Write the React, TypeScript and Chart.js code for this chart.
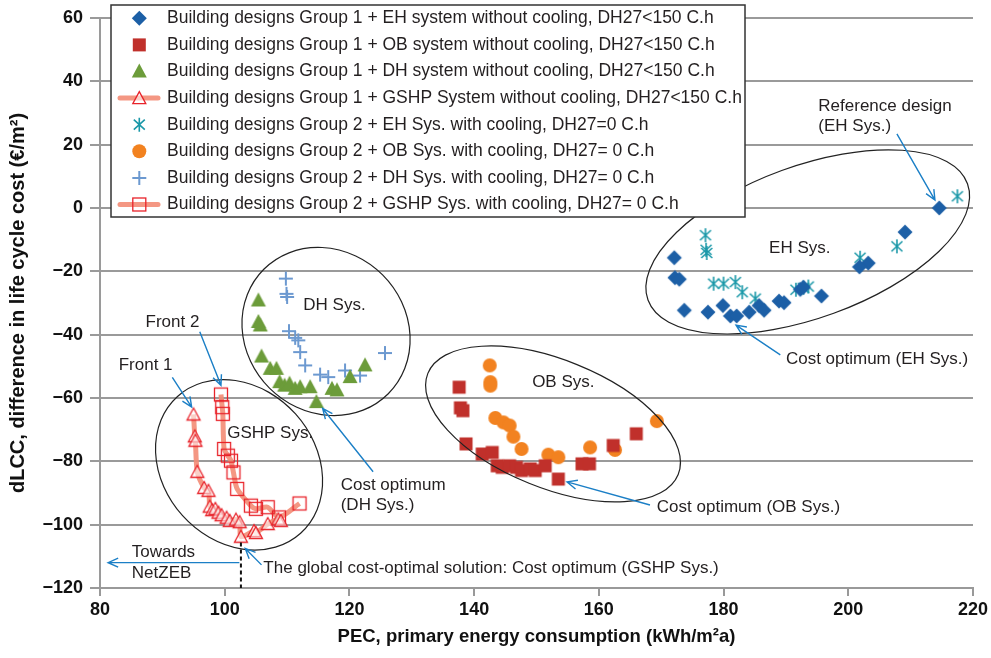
import React, { useEffect, useRef } from 'react';
import { Chart, registerables } from 'chart.js';
Chart.register(...registerables);

// ---------- data ----------
const xTicks = [80, 100, 120, 140, 160, 180, 200, 220];
const yTicks = [60, 40, 20, 0, -20, -40, -60, -80, -100, -120];

const legendLabels = [
  'Building designs Group 1 + EH system without cooling, DH27<150 C.h',
  'Building designs Group 1 + OB system without cooling, DH27<150 C.h',
  'Building designs Group 1 + DH system without cooling, DH27<150 C.h',
  'Building designs Group 1 + GSHP System without cooling, DH27<150 C.h',
  'Building designs Group 2 + EH Sys. with cooling, DH27=0 C.h',
  'Building designs Group 2 + OB Sys. with cooling, DH27= 0 C.h',
  'Building designs Group 2 + DH Sys. with cooling, DH27= 0 C.h',
  'Building designs Group 2 + GSHP Sys. with cooling, DH27= 0 C.h',
];

const eh1: [number, number][] = [
  [214.6, 0], [209.1, -7.6], [203.2, -17.4], [201.8, -18.6], [172.1, -15.7], [172.2, -22.0],
  [172.9, -22.5], [173.7, -32.3], [177.5, -32.9], [179.9, -30.8], [181.1, -34.1], [182.1, -34.1],
  [184.1, -32.9], [185.7, -30.8], [186.5, -32.3], [188.9, -29.4], [189.7, -29.9], [192.3, -25.7],
  [192.8, -25.0], [195.7, -27.8],
];
const ob1: [number, number][] = [
  [137.6, -56.6], [137.8, -63.1], [138.2, -64.0], [138.7, -74.5], [141.3, -77.7], [142.9, -77.2],
  [143.7, -81.4], [144.5, -81.9], [145.7, -81.4], [146.8, -81.9], [147.6, -82.9], [149.0, -82.4],
  [149.8, -82.9], [151.4, -81.4], [153.5, -85.6], [157.3, -80.8], [158.5, -80.8], [162.3, -75.0],
  [166.0, -71.3],
];
const dh1: [number, number][] = [
  [105.4, -29.2], [105.4, -36.0], [105.7, -37.1], [105.9, -46.9], [107.3, -50.8], [108.3, -50.8],
  [108.8, -55.0], [109.6, -56.1], [110.4, -55.5], [111.3, -57.1], [112.1, -56.6], [113.7, -56.6],
  [114.7, -61.3], [117.2, -57.1], [118.0, -57.6], [120.1, -53.4], [122.5, -49.7],
];
const gshp1: [number, number][] = [
  [95.0, -65.2], [95.2, -72.1], [95.3, -73.5], [95.6, -83.3], [96.7, -88.4], [97.4, -89.3],
  [97.6, -94.3], [98.0, -95.4], [98.5, -95.0], [99.0, -96.2], [99.5, -97.0], [100.3, -97.8],
  [100.8, -98.8], [101.8, -98.4], [102.4, -99.2], [102.6, -103.8], [104.7, -102.0], [105.0, -102.6],
  [106.9, -99.8], [108.6, -98.3], [109.0, -98.8],
];
const eh2: [number, number][] = [
  [217.5, 3.7], [177.1, -8.6], [177.2, -13.2], [177.3, -14.2], [178.4, -23.9], [180.0, -23.9],
  [181.9, -23.4], [183.0, -26.6], [185.1, -28.6], [191.6, -25.8], [192.8, -25.2], [193.6, -24.8],
  [201.9, -15.7], [207.8, -12.1],
];
const ob2: [number, number][] = [
  [142.5, -49.7], [142.6, -55.0], [142.6, -56.1], [143.4, -66.3], [144.7, -67.7], [145.7, -68.7],
  [146.3, -72.2], [147.6, -76.1], [151.9, -77.9], [153.5, -78.7], [158.6, -75.6], [162.6, -76.4],
  [169.3, -67.3],
];
const dh2: [number, number][] = [
  [109.8, -22.3], [109.9, -27.1], [110.0, -28.1], [110.3, -38.9], [111.3, -41.0], [111.8, -41.8],
  [112.1, -45.5], [112.9, -49.7], [115.3, -52.6], [116.6, -53.4], [119.3, -51.3], [121.7, -52.9],
  [125.7, -45.8],
];
const gshp2: [number, number][] = [
  [99.4, -58.9], [99.6, -62.9], [99.7, -65.0], [99.9, -76.1], [100.5, -78.2], [101.0, -79.8],
  [101.4, -83.5], [102.0, -88.7], [104.2, -94.0], [105.0, -95.0], [106.9, -94.5], [108.7, -97.7],
  [112.0, -93.3],
];

// annotations (data coordinates)
const ellipses = [
  { cx: 102.3, cy: -81.1, rx: 92, ry: 76, rot: 48 },
  { cx: 116.25, cy: -39.0, rx: 88, ry: 80, rot: 45 },
  { cx: 152.65, cy: -68.2, rx: 135, ry: 64, rot: 22 },
  { cx: 193.5, cy: -10.7, rx: 170, ry: 76, rot: -20 },
];
const labels = [
  { x: 195.2, y: 32.2, text: 'Reference design' },
  { x: 195.2, y: 25.7, text: '(EH Sys.)' },
  { x: 187.3, y: -12.6, text: 'EH Sys.' },
  { x: 190.0, y: -47.8, text: 'Cost optimum (EH Sys.)' },
  { x: 149.3, y: -54.9, text: 'OB Sys.' },
  { x: 169.3, y: -94.4, text: 'Cost optimum (OB Sys.)' },
  { x: 112.6, y: -30.6, text: 'DH Sys.' },
  { x: 118.6, y: -87.5, text: 'Cost optimum' },
  { x: 118.6, y: -93.9, text: '(DH Sys.)' },
  { x: 100.4, y: -71.0, text: 'GSHP Sys.' },
  { x: 83.0, y: -49.6, text: 'Front 1' },
  { x: 87.3, y: -36.2, text: 'Front 2' },
  { x: 85.1, y: -108.8, text: 'Towards' },
  { x: 85.1, y: -115.4, text: 'NetZEB' },
  { x: 106.2, y: -113.8, text: 'The global cost-optimal solution: Cost optimum (GSHP Sys.)' },
];
const arrows = [
  { x1: 207.8, y1: 23.4, x2: 213.9, y2: 2.5 },
  { x1: 189.1, y1: -46.4, x2: 182.0, y2: -37.0 },
  { x1: 168.2, y1: -93.8, x2: 154.9, y2: -86.5 },
  { x1: 123.8, y1: -83.3, x2: 115.7, y2: -63.3 },
  { x1: 91.6, y1: -53.5, x2: 94.7, y2: -62.9 },
  { x1: 96.0, y1: -39.1, x2: 99.4, y2: -56.0 },
  { x1: 102.35, y1: -112.0, x2: 81.3, y2: -112.0 },
  { x1: 105.9, y1: -112.7, x2: 103.3, y2: -107.5 },
];
const dashedLine = { x: 102.6, y1: -105.6, y2: -120 };

// ---------- styles ----------
const RED = '#e8232a';
const SALMON = 'rgba(243,140,118,0.9)';
const markerKinds = ['diamond', 'square', 'tri', 'triOpen', 'star', 'circle', 'plus', 'squareOpen'];

function drawMarker(g: CanvasRenderingContext2D, kind: string, x: number, y: number) {
  g.save();
  g.beginPath();
  switch (kind) {
    case 'diamond':
      g.moveTo(x, y - 7.5); g.lineTo(x + 7.5, y); g.lineTo(x, y + 7.5); g.lineTo(x - 7.5, y); g.closePath();
      g.fillStyle = '#1c5fa6'; g.fill(); break;
    case 'square':
      g.fillStyle = '#c0302b'; g.fillRect(x - 6.5, y - 6.5, 13, 13); break;
    case 'tri':
      g.moveTo(x, y - 8); g.lineTo(x + 7.5, y + 6); g.lineTo(x - 7.5, y + 6); g.closePath();
      g.fillStyle = '#6c9c3a'; g.fill(); break;
    case 'triOpen':
      g.moveTo(x, y - 6.5); g.lineTo(x + 6.5, y + 5.5); g.lineTo(x - 6.5, y + 5.5); g.closePath();
      g.fillStyle = 'rgba(255,255,255,0.55)'; g.fill();
      g.strokeStyle = RED; g.lineWidth = 1.3; g.stroke(); break;
    case 'star':
      g.moveTo(x, y - 7); g.lineTo(x, y + 7);
      g.moveTo(x - 5.5, y - 5); g.lineTo(x + 5.5, y + 5);
      g.moveTo(x - 5.5, y + 5); g.lineTo(x + 5.5, y - 5);
      g.strokeStyle = '#1a98a8'; g.lineWidth = 1.6; g.stroke(); break;
    case 'circle':
      g.arc(x, y, 7, 0, Math.PI * 2); g.fillStyle = '#f28220'; g.fill(); break;
    case 'plus':
      g.moveTo(x - 7, y); g.lineTo(x + 7, y); g.moveTo(x, y - 7); g.lineTo(x, y + 7);
      g.strokeStyle = '#6c99d0'; g.lineWidth = 2; g.stroke(); break;
    case 'squareOpen':
      g.strokeStyle = RED; g.lineWidth = 1.3; g.strokeRect(x - 6.5, y - 6.5, 13, 13); break;
  }
  g.restore();
}

function makeMarker(kind: string): HTMLCanvasElement {
  const c = document.createElement('canvas');
  c.width = 20; c.height = 20;
  drawMarker(c.getContext('2d')!, kind, 10, 10);
  return c;
}

const FONT = '"Liberation Sans", Arial, Helvetica, sans-serif';
const TEXT = '#231f20';
const ARROW = '#1b7fc6';

const annotationPlugin = {
  id: 'annots',
  afterDatasetsDraw(chart: any) {
    const { ctx } = chart;
    const xs = chart.scales.x, ys = chart.scales.y;
    const px = (v: number) => xs.getPixelForValue(v);
    const py = (v: number) => ys.getPixelForValue(v);
    ctx.save();
    // ellipses
    ctx.strokeStyle = '#222'; ctx.lineWidth = 1.2;
    ellipses.forEach(e => {
      ctx.beginPath();
      ctx.ellipse(px(e.cx), py(e.cy), e.rx, e.ry, (e.rot * Math.PI) / 180, 0, Math.PI * 2);
      ctx.stroke();
    });
    // dashed line
    ctx.beginPath();
    ctx.setLineDash([4, 3]); ctx.lineWidth = 2; ctx.strokeStyle = '#111';
    ctx.moveTo(px(dashedLine.x), py(dashedLine.y1)); ctx.lineTo(px(dashedLine.x), py(dashedLine.y2));
    ctx.stroke();
    ctx.setLineDash([]);
    // arrows
    ctx.strokeStyle = ARROW; ctx.lineWidth = 1.4;
    arrows.forEach(a => {
      const x1 = px(a.x1), y1 = py(a.y1), x2 = px(a.x2), y2 = py(a.y2);
      const ang = Math.atan2(y2 - y1, x2 - x1);
      ctx.beginPath();
      ctx.moveTo(x1, y1); ctx.lineTo(x2, y2);
      const L = 11, sp = 0.42;
      ctx.moveTo(x2 - L * Math.cos(ang - sp), y2 - L * Math.sin(ang - sp));
      ctx.lineTo(x2, y2);
      ctx.lineTo(x2 - L * Math.cos(ang + sp), y2 - L * Math.sin(ang + sp));
      ctx.stroke();
    });
    // texts
    ctx.fillStyle = TEXT; ctx.font = `17px ${FONT}`;
    ctx.textAlign = 'left'; ctx.textBaseline = 'middle';
    labels.forEach(l => ctx.fillText(l.text, px(l.x), py(l.y)));
    // legend box
    const bx = 111, by = 5, bw = 634, bh = 212;
    ctx.fillStyle = '#fff'; ctx.fillRect(bx, by, bw, bh);
    ctx.strokeStyle = '#333'; ctx.lineWidth = 1.5; ctx.strokeRect(bx, by, bw, bh);
    ctx.font = `17.5px ${FONT}`;
    legendLabels.forEach((t, i) => {
      const ry = 18.3 + i * 26.6;
      if (i === 3 || i === 7) {
        ctx.beginPath(); ctx.strokeStyle = SALMON; ctx.lineWidth = 5; ctx.lineCap = 'round';
        ctx.moveTo(120, ry); ctx.lineTo(158, ry); ctx.stroke();
        ctx.lineCap = 'butt';
      }
      drawMarker(ctx, markerKinds[i], 139.3, ry);
      ctx.fillStyle = TEXT;
      ctx.fillText(t, 167, ry);
    });
    ctx.restore();
  },
};

export default function App() {
  const ref = useRef<HTMLCanvasElement | null>(null);
  useEffect(() => {
    document.body.style.margin = '0';
    const markers = markerKinds.map(makeMarker);
    const toPts = (a: [number, number][]) => a.map(([x, y]) => ({ x, y }));
    const series = [eh1, ob1, dh1, gshp1, eh2, ob2, dh2, gshp2];
    const datasets = series.map((s, i) => {
      const isLine = i === 3 || i === 7;
      return {
        label: legendLabels[i],
        data: toPts(isLine ? [...s].sort((a, b) => a[0] - b[0]) : s),
        pointStyle: markers[i],
        pointRadius: 7,
        showLine: isLine,
        borderColor: isLine ? SALMON : 'transparent',
        borderWidth: isLine ? 5 : 0,
        tension: 0.25,
        backgroundColor: 'transparent',
        order: isLine ? 2 : 1,
      };
    });
    const chart = new Chart(ref.current!, {
      type: 'scatter',
      data: { datasets },
      plugins: [annotationPlugin],
      options: {
        animation: false,
        responsive: false,
        events: [],
        layout: { padding: { top: 18, right: 18, left: 0, bottom: 0 } },
        plugins: { legend: { display: false }, tooltip: { enabled: false } },
        scales: {
          x: {
            type: 'linear', min: xTicks[0], max: xTicks[xTicks.length - 1],
            afterFit: (s: any) => { s.height = 70; },
            afterBuildTicks: (s: any) => { s.ticks = xTicks.map(v => ({ value: v })); },
            ticks: { font: { family: FONT, size: 18, weight: 'bold' }, color: '#111', padding: 3,
              callback: (v: any) => String(v) },
            grid: { drawOnChartArea: false, drawTicks: true, tickLength: 8, color: '#999', lineWidth: 2 },
            border: { display: true, color: '#999', width: 2 },
            title: { display: true, text: 'PEC, primary energy consumption (kWh/m²a)',
              font: { family: FONT, size: 18.5, weight: 'bold' }, color: '#111', padding: { bottom: 10 } },
          },
          y: {
            type: 'linear', min: yTicks[yTicks.length - 1], max: yTicks[0],
            afterFit: (s: any) => { s.width = 100; },
            afterBuildTicks: (s: any) => { s.ticks = [...yTicks].reverse().map(v => ({ value: v })); },
            ticks: { font: { family: FONT, size: 18, weight: 'bold' }, color: '#111', padding: 7,
              callback: (v: any) => (v < 0 ? '\u2212' + Math.abs(v) : String(v)) },
            grid: { drawOnChartArea: true, drawTicks: true, tickLength: 10, color: '#9a9a9a', lineWidth: 2 },
            border: { display: true, color: '#9a9a9a', width: 2 },
            title: { display: true, text: 'dLCC, difference in life cycle cost (€/m²)',
              font: { family: FONT, size: 20, weight: 'bold' }, color: '#111', padding: { top: 6 } },
          },
        },
      } as any,
    });
    return () => chart.destroy();
  }, []);
  return (
    <div style={{ width: 991, height: 658 }}>
      <canvas ref={ref} width={991} height={658} style={{ display: 'block' }} />
    </div>
  );
}
